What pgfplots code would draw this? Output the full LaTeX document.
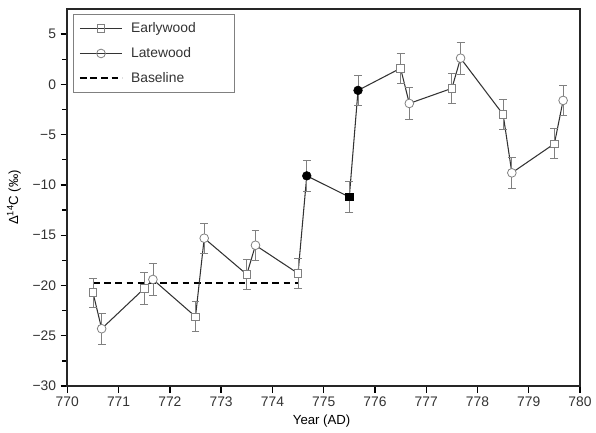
\documentclass[border=0pt]{standalone}
\usepackage{pgfplots}
\pgfplotsset{compat=1.18}
\usepackage{pgfplotstable}
\usepackage{fontspec}
\setmainfont{Liberation Sans}
\definecolor{txt}{HTML}{333333}
\definecolor{mk}{HTML}{808080}

\pgfplotsset{
  longleg/.style={legend image code/.code={\draw[##1, mark repeat=2, mark phase=2] plot coordinates {(2pt,0pt) (18pt,0pt) (34pt,0pt)};}},
  dashleg/.style={legend image code/.code={\draw[##1] (2pt,0pt) -- (34pt,0pt);}},
  ebar/.style={error bars/.cd, y dir=both, y explicit,
    error bar style={mk, line width=0.6pt},
    error mark options={mk, rotate=90, mark size=3pt, line width=0.6pt}},
}

% year, Delta14C, error
\pgfplotstableread{
x y e
770.50 -20.7 1.45
770.67 -24.3 1.55
771.50 -20.3 1.6
771.67 -19.4 1.6
772.50 -23.1 1.5
772.67 -15.3 1.5
773.50 -18.9 1.5
773.67 -16.0 1.5
774.50 -18.8 1.5
774.67 -9.1 1.5
775.50 -11.2 1.5
775.67 -0.6 1.5
776.50 1.6 1.5
776.67 -1.9 1.6
777.50 -0.4 1.5
777.67 2.6 1.6
778.50 -3.0 1.5
778.67 -8.8 1.5
779.50 -5.9 1.5
779.67 -1.6 1.5
}\alldata

\pgfplotstableread{
x y e
770.50 -20.7 1.45
771.50 -20.3 1.6
772.50 -23.1 1.5
773.50 -18.9 1.5
774.50 -18.8 1.5
776.50 1.6 1.5
777.50 -0.4 1.5
778.50 -3.0 1.5
779.50 -5.9 1.5
}\early

\pgfplotstableread{
x y e
770.67 -24.3 1.55
771.67 -19.4 1.6
772.67 -15.3 1.5
773.67 -16.0 1.5
776.67 -1.9 1.6
777.67 2.6 1.6
778.67 -8.8 1.5
779.67 -1.6 1.5
}\late

\pgfplotstableread{
x y e
775.50 -11.2 1.5
}\earlyfilled

\pgfplotstableread{
x y e
774.67 -9.1 1.5
775.67 -0.6 1.5
}\latefilled

\begin{document}
\begin{tikzpicture}
\path (-51pt,-35.25pt) rectangle (396pt,292.5pt);
\begin{axis}[
  scale only axis,
  width=388.5pt, height=285.75pt,
  xmin=770, xmax=780,
  ymin=-30, ymax=7.5,
  xtick={770,771,...,780},
  ytick={-30,-25,...,5},
  yticklabels={−30,−25,−20,−15,−10,−5,0,5},
  minor y tick num=1,
  xtick pos=left, ytick pos=left,
  tick align=outside,
  major tick length=5pt,
  minor tick length=4pt,
  every tick/.style={black, line width=1pt},
  axis line style={black!85, line width=1.3pt},
  /pgf/number format/assume math mode=true,
  /pgf/number format/1000 sep={},
  tick label style={font=\fontsize{10.5}{12.6}\selectfont, text=txt},
  label style={font=\fontsize{10.5}{12.6}\selectfont, text=txt},
  xlabel={Year (AD)},
  ylabel={Δ\textsuperscript{14}C (‰)},
  every axis x label/.style={at={(axis description cs:0.496,-0.092)}, anchor=center},
  every axis y label/.style={at={(axis description cs:-0.104,0.5)}, rotate=90, anchor=center},
  legend style={at={(axis description cs:0.0116,0.986)}, anchor=north west,
    draw=mk, line width=0.6pt, font=\fontsize{10.5}{12.6}\selectfont, text=txt,
    row sep=5.8pt, inner xsep=4pt, inner ysep=4pt},
  legend cell align=left,
]
% legend entries
\addlegendimage{black!80, line width=0.8pt, mark=square, mark size=2.8pt,
  mark options={draw=mk, fill=white, line width=0.6pt}, longleg}
\addlegendentry{\hspace{4pt}\makebox[72pt][l]{Earlywood}}
\addlegendimage{black!80, line width=0.8pt, mark=o, mark size=3.3pt,
  mark options={draw=mk, fill=white, line width=0.6pt}, longleg}
\addlegendentry{\hspace{4pt}Latewood}
\addlegendimage{black, line width=1.5pt, dash pattern=on 5pt off 3pt, dashleg}
\addlegendentry{\hspace{4pt}Baseline}

% baseline
\addplot[black, line width=1.5pt, dash pattern=on 5pt off 3.5pt, forget plot]
  coordinates {(770.5,-19.8) (774.5,-19.8)};
% connecting line
\addplot[black!80, line width=0.8pt, no markers, forget plot] table[x=x, y=y] {\alldata};
% error bars + marks
\addplot[only marks, mark=square*, mark size=2.8pt, mark options={draw=mk, fill=white, line width=0.6pt},
  forget plot, ebar] table[x=x, y=y, y error=e] {\early};
\addplot[only marks, mark=*, mark size=3.3pt, mark options={draw=mk, fill=white, line width=0.6pt},
  forget plot, ebar] table[x=x, y=y, y error=e] {\late};
\addplot[only marks, mark=square*, mark size=2.8pt, mark options={draw=black, fill=black},
  forget plot, ebar] table[x=x, y=y, y error=e] {\earlyfilled};
\addplot[only marks, mark=*, mark size=3.3pt, mark options={draw=black, fill=black},
  forget plot, ebar] table[x=x, y=y, y error=e] {\latefilled};
\end{axis}
\end{tikzpicture}
\end{document}
